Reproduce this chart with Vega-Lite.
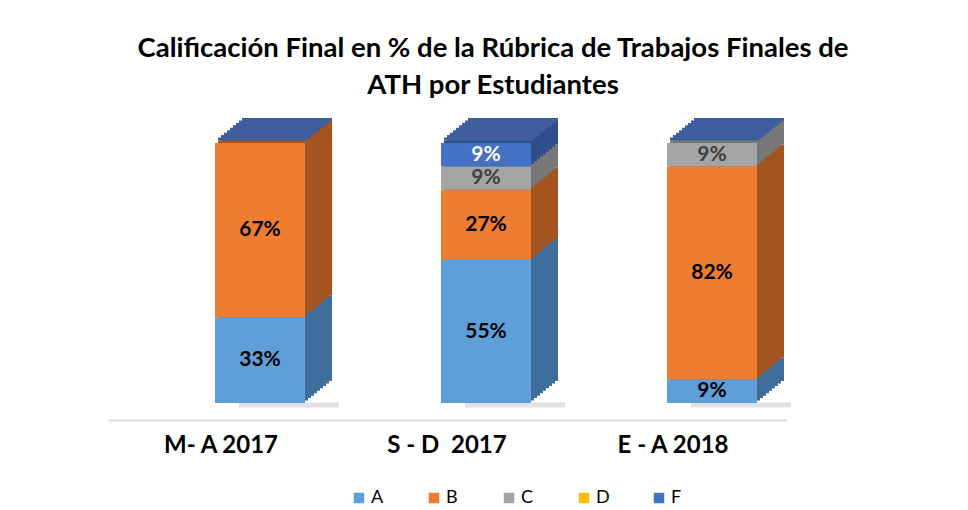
{
  "$schema": "https://vega.github.io/schema/vega-lite/v6.json",
  "width": 678,
  "height": 260,
  "autosize": "none",
  "padding": {"left": 108, "top": 143, "right": 182, "bottom": 107},
  "background": "white",
  "config": {"view": {"stroke": null}, "font": "Lato"},
  "title": {
    "text": ["Calificación Final en % de la Rúbrica de Trabajos Finales de", "ATH por Estudiantes"],
    "font": "Lato", "fontSize": 27.5, "fontWeight": "bold", "color": "#000000",
    "lineHeight": 37, "anchor": "middle", "frame": "group", "dx": 46, "offset": 19
  },
  "data": {"values": [
    {"period": "M- A 2017", "grade": "A", "value": 33},
    {"period": "M- A 2017", "grade": "B", "value": 67},
    {"period": "S - D  2017", "grade": "A", "value": 55},
    {"period": "S - D  2017", "grade": "B", "value": 27},
    {"period": "S - D  2017", "grade": "C", "value": 9},
    {"period": "S - D  2017", "grade": "F", "value": 9},
    {"period": "E - A 2018", "grade": "A", "value": 9},
    {"period": "E - A 2018", "grade": "B", "value": 82},
    {"period": "E - A 2018", "grade": "C", "value": 9}
  ]},
  "transform": [
    {"stack": "value", "groupby": ["period"], "sort": [{"field": "grade", "order": "ascending"}], "as": ["y0", "y1"]},
    {"calculate": "(datum.y0 + datum.y1) / 2", "as": "ymid"},
    {"calculate": "datum.value + '%'", "as": "label"}
  ],
  "encoding": {
    "x": {"field": "period", "type": "nominal", "sort": ["M- A 2017", "S - D  2017", "E - A 2018"],
      "scale": {"paddingInner": 0, "paddingOuter": 0},
      "axis": {"title": null, "ticks": false, "domainColor": "#D9D9D9", "domainWidth": 2, "offset": 17,
        "labelAngle": 0, "labelFont": "Lato", "labelFontSize": 24, "labelFontWeight": "bold", "labelColor": "#000000", "labelPadding": 13,
        "labelExpr": "replace(datum.label, '  ', ' \u00a0')"}}
  },
  "layer": [
    {"mark": {"type": "tick", "size": 100, "thickness": 5, "xOffset": 68, "yOffset": 2, "color": "#8C8C8C", "opacity": 0.25}, "encoding": {"y": {"aggregate": "min", "field": "y0", "type": "quantitative", "scale": {"domain": [0, 100]}, "axis": null}}},
    {"mark": {"type": "bar", "width": 90, "xOffset": 66, "yOffset": -22, "y2Offset": -22}, "encoding": {"y": {"field": "y1", "type": "quantitative"}, "y2": {"field": "y0"}, "fill": {"condition": [{"test": "datum.grade === 'A'", "value": "#3F6E9C"}, {"test": "datum.grade === 'B'", "value": "#A5541F"}, {"test": "datum.grade === 'C'", "value": "#777777"}], "value": "#2F4F8C"}}},
    {"mark": {"type": "tick", "size": 90, "thickness": 3, "xOffset": 66, "yOffset": -23.5, "color": "#3E5E9E"}, "encoding": {"y": {"aggregate": "max", "field": "y1", "type": "quantitative"}}},
    {"mark": {"type": "bar", "width": 90, "xOffset": 63, "yOffset": -19.56, "y2Offset": -19.56}, "encoding": {"y": {"field": "y1", "type": "quantitative"}, "y2": {"field": "y0"}, "fill": {"condition": [{"test": "datum.grade === 'A'", "value": "#3F6E9C"}, {"test": "datum.grade === 'B'", "value": "#A5541F"}, {"test": "datum.grade === 'C'", "value": "#777777"}], "value": "#2F4F8C"}}},
    {"mark": {"type": "tick", "size": 90, "thickness": 3, "xOffset": 63, "yOffset": -21.06, "color": "#3E5E9E"}, "encoding": {"y": {"aggregate": "max", "field": "y1", "type": "quantitative"}}},
    {"mark": {"type": "bar", "width": 90, "xOffset": 60, "yOffset": -17.11, "y2Offset": -17.11}, "encoding": {"y": {"field": "y1", "type": "quantitative"}, "y2": {"field": "y0"}, "fill": {"condition": [{"test": "datum.grade === 'A'", "value": "#3F6E9C"}, {"test": "datum.grade === 'B'", "value": "#A5541F"}, {"test": "datum.grade === 'C'", "value": "#777777"}], "value": "#2F4F8C"}}},
    {"mark": {"type": "tick", "size": 90, "thickness": 3, "xOffset": 60, "yOffset": -18.61, "color": "#3E5E9E"}, "encoding": {"y": {"aggregate": "max", "field": "y1", "type": "quantitative"}}},
    {"mark": {"type": "bar", "width": 90, "xOffset": 57, "yOffset": -14.67, "y2Offset": -14.67}, "encoding": {"y": {"field": "y1", "type": "quantitative"}, "y2": {"field": "y0"}, "fill": {"condition": [{"test": "datum.grade === 'A'", "value": "#3F6E9C"}, {"test": "datum.grade === 'B'", "value": "#A5541F"}, {"test": "datum.grade === 'C'", "value": "#777777"}], "value": "#2F4F8C"}}},
    {"mark": {"type": "tick", "size": 90, "thickness": 3, "xOffset": 57, "yOffset": -16.17, "color": "#3E5E9E"}, "encoding": {"y": {"aggregate": "max", "field": "y1", "type": "quantitative"}}},
    {"mark": {"type": "bar", "width": 90, "xOffset": 54, "yOffset": -12.22, "y2Offset": -12.22}, "encoding": {"y": {"field": "y1", "type": "quantitative"}, "y2": {"field": "y0"}, "fill": {"condition": [{"test": "datum.grade === 'A'", "value": "#3F6E9C"}, {"test": "datum.grade === 'B'", "value": "#A5541F"}, {"test": "datum.grade === 'C'", "value": "#777777"}], "value": "#2F4F8C"}}},
    {"mark": {"type": "tick", "size": 90, "thickness": 3, "xOffset": 54, "yOffset": -13.72, "color": "#3E5E9E"}, "encoding": {"y": {"aggregate": "max", "field": "y1", "type": "quantitative"}}},
    {"mark": {"type": "bar", "width": 90, "xOffset": 51, "yOffset": -9.78, "y2Offset": -9.78}, "encoding": {"y": {"field": "y1", "type": "quantitative"}, "y2": {"field": "y0"}, "fill": {"condition": [{"test": "datum.grade === 'A'", "value": "#3F6E9C"}, {"test": "datum.grade === 'B'", "value": "#A5541F"}, {"test": "datum.grade === 'C'", "value": "#777777"}], "value": "#2F4F8C"}}},
    {"mark": {"type": "tick", "size": 90, "thickness": 3, "xOffset": 51, "yOffset": -11.28, "color": "#3E5E9E"}, "encoding": {"y": {"aggregate": "max", "field": "y1", "type": "quantitative"}}},
    {"mark": {"type": "bar", "width": 90, "xOffset": 48, "yOffset": -7.33, "y2Offset": -7.33}, "encoding": {"y": {"field": "y1", "type": "quantitative"}, "y2": {"field": "y0"}, "fill": {"condition": [{"test": "datum.grade === 'A'", "value": "#3F6E9C"}, {"test": "datum.grade === 'B'", "value": "#A5541F"}, {"test": "datum.grade === 'C'", "value": "#777777"}], "value": "#2F4F8C"}}},
    {"mark": {"type": "tick", "size": 90, "thickness": 3, "xOffset": 48, "yOffset": -8.83, "color": "#3E5E9E"}, "encoding": {"y": {"aggregate": "max", "field": "y1", "type": "quantitative"}}},
    {"mark": {"type": "bar", "width": 90, "xOffset": 45, "yOffset": -4.89, "y2Offset": -4.89}, "encoding": {"y": {"field": "y1", "type": "quantitative"}, "y2": {"field": "y0"}, "fill": {"condition": [{"test": "datum.grade === 'A'", "value": "#3F6E9C"}, {"test": "datum.grade === 'B'", "value": "#A5541F"}, {"test": "datum.grade === 'C'", "value": "#777777"}], "value": "#2F4F8C"}}},
    {"mark": {"type": "tick", "size": 90, "thickness": 3, "xOffset": 45, "yOffset": -6.39, "color": "#3E5E9E"}, "encoding": {"y": {"aggregate": "max", "field": "y1", "type": "quantitative"}}},
    {"mark": {"type": "bar", "width": 90, "xOffset": 42, "yOffset": -2.44, "y2Offset": -2.44}, "encoding": {"y": {"field": "y1", "type": "quantitative"}, "y2": {"field": "y0"}, "fill": {"condition": [{"test": "datum.grade === 'A'", "value": "#3F6E9C"}, {"test": "datum.grade === 'B'", "value": "#A5541F"}, {"test": "datum.grade === 'C'", "value": "#777777"}], "value": "#2F4F8C"}}},
    {"mark": {"type": "tick", "size": 90, "thickness": 3, "xOffset": 42, "yOffset": -3.94, "color": "#3E5E9E"}, "encoding": {"y": {"aggregate": "max", "field": "y1", "type": "quantitative"}}},
    {"mark": {"type": "bar", "width": 90, "xOffset": 39}, "encoding": {"y": {"field": "y1", "type": "quantitative"}, "y2": {"field": "y0"},
      "color": {"field": "grade", "type": "nominal", "scale": {"domain": ["A", "B", "C", "D", "F"], "range": ["#5F9FD9", "#EE7D31", "#A5A5A5", "#FFC000", "#4472C4"]},
        "legend": {"title": null, "orient": "none", "legendX": 242, "legendY": 346, "direction": "horizontal", "columns": 5, "gridAlign": "all", "columnPadding": 40,
          "symbolType": "square", "symbolSize": 110, "symbolStrokeWidth": 0, "labelFont": "Lato", "labelFontSize": 18, "labelColor": "#000000", "labelOffset": 3}}}},
    {"mark": {"type": "text", "xOffset": 39, "font": "Lato", "fontSize": 21, "fontWeight": "bold"},
      "encoding": {"y": {"field": "ymid", "type": "quantitative"}, "text": {"field": "label", "type": "nominal"},
        "color": {"condition": [{"test": "datum.grade === 'F'", "value": "#FFFFFF"}, {"test": "datum.grade === 'C'", "value": "#404040"}], "value": "#000000"}}}
  ]
}
